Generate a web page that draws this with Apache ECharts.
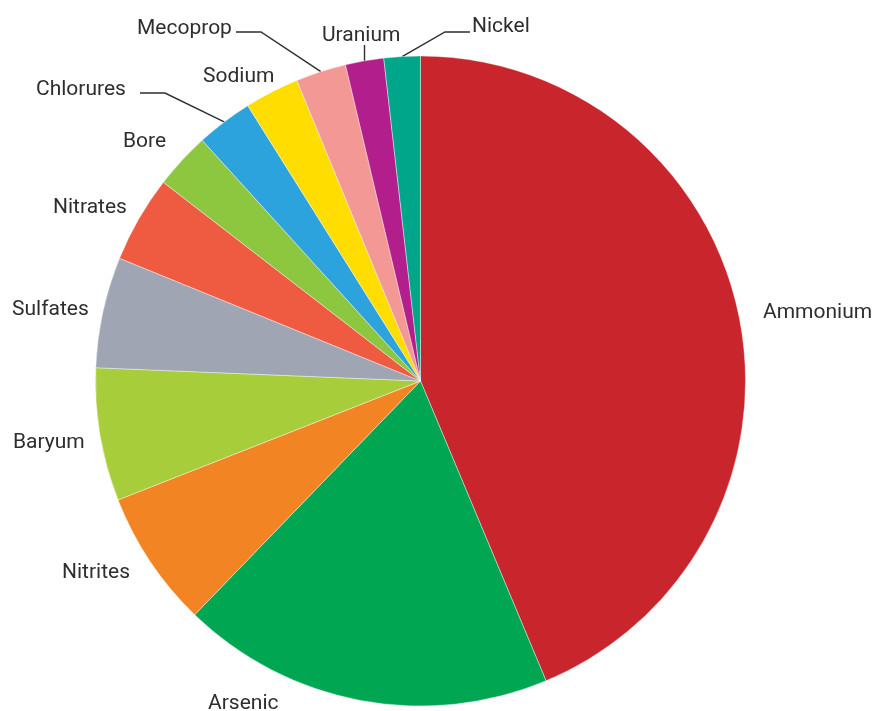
<!DOCTYPE html>
<html>
<head>
<meta charset="utf-8">
<style>
  html, body { margin: 0; padding: 0; background: #ffffff; }
  #chart { width: 879px; height: 711px; }
</style>
<script src="https://cdn.jsdelivr.net/npm/echarts@6/dist/echarts.min.js"></script>
</head>
<body>
<div id="chart"></div>
<script>
// Share of each substance (percent), clockwise from 12 o'clock
const substances = ['Ammonium', 'Arsenic', 'Nitrites', 'Baryum', 'Sulfates', 'Nitrates',
                    'Bore', 'Chlorures', 'Sodium', 'Mecoprop', 'Uranium', 'Nickel'];
const shares = [43.6, 18.5, 6.8, 6.6, 5.5, 4.3, 2.8, 2.8, 2.7, 2.5, 1.9, 1.8];
const sliceColors = ['#C8252C', '#00A651', '#F38424', '#A8CD3A', '#9FA5B3', '#EF5B40',
                     '#8DC63F', '#2CA3DC', '#FFDD00', '#F49896', '#B21F8D', '#00A68A'];

// Label anchors (left edge, vertical middle) and optional leader-line elbows
const labelSpots = {
  Ammonium:  { x: 763, y: 313 },
  Arsenic:   { x: 208, y: 704 },
  Nitrites:  { x: 62,  y: 573 },
  Baryum:    { x: 13,  y: 443 },
  Sulfates:  { x: 12,  y: 310 },
  Nitrates:  { x: 53,  y: 208 },
  Bore:      { x: 123, y: 142 },
  Chlorures: { x: 36,  y: 90,  elbow: [165, 93], tail: [140, 93] },
  Sodium:    { x: 203, y: 77 },
  Mecoprop:  { x: 137, y: 29,  elbow: [261, 32], tail: [236, 32] },
  Uranium:   { x: 322, y: 36,  vertical: 45 },
  Nickel:    { x: 472, y: 27,  elbow: [445, 32], tail: [470, 32] }
};

const chart = echarts.init(document.getElementById('chart'), null, { renderer: 'canvas' });

const pieData = substances.map((name, i) => {
  const spot = labelSpots[name];
  const hasLine = !!(spot.elbow || spot.vertical);
  return {
    name: name,
    value: shares[i],
    itemStyle: { color: sliceColors[i] },
    labelLine: { show: hasLine }
  };
});

chart.setOption({
  animation: false,
  backgroundColor: '#ffffff',
  series: [{
    type: 'pie',
    center: [420.5, 381],
    radius: 325,
    startAngle: 90,
    clockwise: true,
    avoidLabelOverlap: false,
    itemStyle: { borderColor: '#ffffff', borderWidth: 0.4 },
    label: {
      show: true,
      position: 'outside',
      formatter: '{b}',
      fontFamily: 'Roboto',
      fontSize: 21,
      color: '#2e2e2e'
    },
    labelLine: {
      show: true,
      length: 10,
      length2: 10,
      smooth: false,
      lineStyle: { color: '#2e2e2e', width: 1.4 }
    },
    emphasis: { disabled: true },
    data: pieData,
    labelLayout: function (params) {
      const name = substances[params.dataIndex];
      const spot = labelSpots[name];
      const out = { x: spot.x, y: spot.y, align: 'left', verticalAlign: 'middle' };
      const pts = params.labelLinePoints;
      if (pts && pts.length) {
        const start = pts[0];
        if (spot.elbow) {
          out.labelLinePoints = [start, spot.elbow, spot.tail];
        } else if (spot.vertical !== undefined) {
          out.labelLinePoints = [start, [start[0], spot.vertical], [start[0], spot.vertical]];
        }
      }
      return out;
    }
  }]
});
</script>
</body>
</html>
